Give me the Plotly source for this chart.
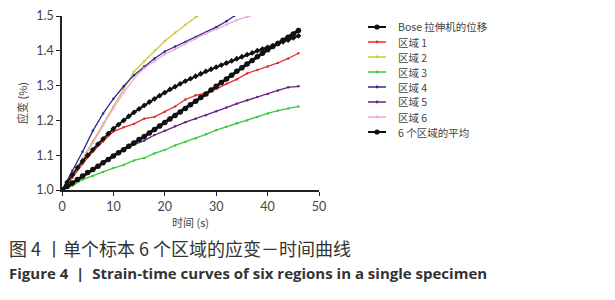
import plotly.graph_objects as go

# ---- data ----
t1 = list(range(0, 47))  # 1-s sampling for black curves
bose = [1.000, 1.010, 1.020, 1.030, 1.040, 1.050, 1.059, 1.068, 1.078, 1.088,
        1.098, 1.107, 1.116, 1.126, 1.135, 1.145, 1.154, 1.164, 1.174, 1.184,
        1.194, 1.204, 1.214, 1.224, 1.234, 1.245, 1.255, 1.266, 1.276, 1.287,
        1.298, 1.309, 1.319, 1.330, 1.341, 1.351, 1.362, 1.372, 1.383, 1.393,
        1.403, 1.412, 1.421, 1.430, 1.439, 1.448, 1.458]
avg = [1.000, 1.022, 1.043, 1.064, 1.083, 1.100, 1.116, 1.132, 1.147, 1.162,
       1.176, 1.188, 1.200, 1.212, 1.223, 1.233, 1.243, 1.253, 1.262, 1.271,
       1.280, 1.289, 1.297, 1.305, 1.313, 1.320, 1.327, 1.334, 1.341, 1.347,
       1.353, 1.359, 1.365, 1.371, 1.377, 1.383, 1.389, 1.394, 1.400, 1.405,
       1.410, 1.415, 1.421, 1.426, 1.431, 1.437, 1.443]

t2 = [0, 2, 4, 6, 8, 10, 12, 14, 16, 18, 20, 22, 24, 26, 28, 30, 32, 34, 36, 38, 40, 42, 44, 46]
region1 = [1.0, 1.035, 1.075, 1.11, 1.14, 1.168, 1.18, 1.19, 1.205, 1.21, 1.225, 1.24,
           1.26, 1.272, 1.278, 1.29, 1.305, 1.318, 1.335, 1.345, 1.355, 1.365, 1.378, 1.393]
region3 = [1.0, 1.012, 1.03, 1.04, 1.052, 1.063, 1.072, 1.085, 1.092, 1.105, 1.115, 1.128,
           1.138, 1.148, 1.16, 1.172, 1.182, 1.192, 1.2, 1.21, 1.22, 1.228, 1.234, 1.24]
region5 = [1.0, 1.02, 1.04, 1.06, 1.08, 1.10, 1.115, 1.13, 1.142, 1.158, 1.17, 1.183,
           1.195, 1.205, 1.215, 1.226, 1.237, 1.248, 1.258, 1.267, 1.276, 1.286, 1.295, 1.298]

t_r2 = [0, 2, 4, 6, 8, 10, 12, 14, 16, 18, 20, 22, 24, 26, 26.3]
region2 = [1.0, 1.04, 1.09, 1.14, 1.19, 1.24, 1.29, 1.34, 1.37, 1.40, 1.428, 1.452, 1.475, 1.497, 1.5]

t_r4 = [0, 2, 4, 6, 8, 10, 12, 14, 16, 18, 20, 22, 24, 26, 28, 30, 32, 33.5]
region4 = [1.0, 1.055, 1.11, 1.17, 1.22, 1.262, 1.298, 1.33, 1.355, 1.378, 1.398, 1.412,
           1.425, 1.44, 1.452, 1.468, 1.485, 1.5]

t_r6 = [0, 2, 4, 6, 8, 10, 12, 14, 16, 18, 20, 22, 24, 26, 28, 30, 32, 34, 36, 36.5]
region6 = [1.0, 1.04, 1.085, 1.135, 1.185, 1.235, 1.28, 1.32, 1.35, 1.37, 1.39, 1.405,
           1.42, 1.435, 1.45, 1.462, 1.475, 1.488, 1.498, 1.5]

legend_names = ["Bose 拉伸机的位移", "区域 1", "区域 2", "区域 3", "区域 4", "区域 5", "区域 6", "6 个区域的平均"]
colors = ["#111111", "#e0302c", "#cccc3a", "#3cc83c", "#2b2b90", "#6a2080", "#f2a6dc", "#111111"]

x_ticks = [0, 10, 20, 30, 40, 50]
y_ticks = [1.0, 1.1, 1.2, 1.3, 1.4, 1.5]

fig = go.Figure()

colored = [(t2, region1, 1), (t_r2, region2, 2), (t2, region3, 3),
           (t_r4, region4, 4), (t2, region5, 5), (t_r6, region6, 6)]
for xs, ys, i in colored:
    fig.add_trace(go.Scatter(x=xs, y=ys, mode="lines+markers", name=legend_names[i],
                             line=dict(color=colors[i], width=1.3),
                             marker=dict(size=2.5, color=colors[i]),
                             showlegend=False))

fig.add_trace(go.Scatter(x=t1, y=avg, mode="lines+markers", name=legend_names[7],
                         line=dict(color=colors[7], width=2),
                         marker=dict(size=4.5, color=colors[7], symbol="diamond"),
                         showlegend=False))
fig.add_trace(go.Scatter(x=t1, y=bose, mode="lines+markers", name=legend_names[0],
                         line=dict(color=colors[0], width=3),
                         marker=dict(size=5.5, color=colors[0]),
                         showlegend=False))

# ---- layout geometry (page pixels; the page body adds an 8 px offset) ----
OFF = 8
FW, FH = 615 - OFF, 300 - OFF
L, R, T, B = 62 - OFF, 319 - OFF, 16 - OFF, 190 - OFF
W, H = R - L, B - T
def px2paper(px, py):
    return (px - OFF - L) / W, (B - (py - OFF)) / H

shapes = []
annotations = []
for i, name in enumerate(legend_names):
    py = 27 + 15 * i
    x0, yy = px2paper(368, py)
    x1, _ = px2paper(386, py)
    lw = 2 if i in (0, 7) else 1.5
    shapes.append(dict(type="line", xref="paper", yref="paper", x0=x0, x1=x1, y0=yy, y1=yy,
                       line=dict(color=colors[i], width=lw)))
    r = 2.6 if i in (0, 7) else 1.4
    xa, ya = px2paper(377 - r, py + r)
    xb, yb = px2paper(377 + r, py - r)
    shapes.append(dict(type="circle", xref="paper", yref="paper",
                       x0=xa, x1=xb, y0=ya, y1=yb,
                       fillcolor=colors[i], line=dict(color=colors[i], width=0)))
    xt, _ = px2paper(396, py)
    annotations.append(dict(text=name, xref="paper", yref="paper", x=xt, y=yy,
                            xanchor="left", yanchor="middle", showarrow=False,
                            font=dict(family="Noto Sans CJK SC", size=10.5, color="#444444")))

# captions
cx, cy1 = px2paper(7, 248)
_, cy2 = px2paper(7, 273)
annotations.append(dict(text="图 4 丨单个标本 6 个区域的应变－时间曲线", xref="paper", yref="paper",
                        x=cx, y=cy1, xanchor="left", yanchor="middle", showarrow=False,
                        font=dict(family="Noto Sans CJK SC", size=18, color="#333333")))
annotations.append(dict(text="<b>Figure 4  |  Strain-time curves of six regions in a single specimen</b>",
                        xref="paper", yref="paper", x=cx, y=cy2, xanchor="left", yanchor="middle",
                        showarrow=False,
                        font=dict(family="Open Sans", size=15, color="#333333")))

fig.update_layout(
    width=FW, height=FH,
    margin=dict(l=L, r=FW - R, t=T, b=FH - B, autoexpand=False),
    paper_bgcolor="white", plot_bgcolor="white",
    showlegend=False,
    shapes=shapes, annotations=annotations,
    xaxis=dict(range=[0, 50], tickvals=x_ticks, ticktext=[str(v) for v in x_ticks],
               automargin=False,
               showline=True, linecolor="#222222", linewidth=1.5, ticks="outside",
               ticklen=4, tickcolor="#222222", showgrid=False, zeroline=False,
               tickfont=dict(family="Lato", size=12.5, color="#444444"),
               title=dict(text="时间 (s)", standoff=4,
                          font=dict(family="Noto Sans CJK SC", size=11, color="#444444"))),
    yaxis=dict(range=[1.0, 1.5], tickvals=y_ticks, ticktext=[f"{v:.1f}" for v in y_ticks],
               automargin=False,
               showline=True, linecolor="#222222", linewidth=1.5, ticks="outside",
               ticklen=4, tickcolor="#222222", showgrid=False, zeroline=False,
               tickfont=dict(family="Lato", size=12.5, color="#444444"),
               title=dict(text="应变 (%)", standoff=6,
                          font=dict(family="Noto Sans CJK SC", size=11, color="#444444"))),
)

fig.write_html("out.html")
